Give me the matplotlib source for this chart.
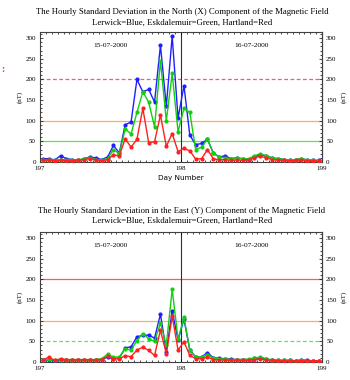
import numpy as np
import matplotlib
matplotlib.use("Agg")
import matplotlib.pyplot as plt
from matplotlib.ticker import MultipleLocator

hours = np.arange(48)
day = 197 + (hours + 0.5) / 24.0

# North (X) component
x_lerwick = [8, 8, 5, 15, 8, 6, 4, 8, 12, 10, 6, 12, 40, 22, 90, 97, 200, 170, 176, 145,
             283, 135, 305, 106, 185, 65, 42, 45, 55, 22, 12, 15, 8, 10, 8, 5, 12, 18, 15, 10,
             8, 6, 5, 5, 8, 5, 4, 4]
x_eskdalemuir = [5, 6, 4, 6, 5, 4, 5, 8, 10, 6, 5, 8, 30, 20, 80, 68, 120, 170, 145, 85,
                 245, 100, 215, 73, 130, 120, 30, 36, 55, 21, 12, 10, 8, 10, 8, 8, 15, 20, 15, 10,
                 8, 6, 5, 6, 8, 5, 4, 3]
x_hartland = [4, 5, 3, 4, 3, 3, 4, 6, 8, 5, 3, 6, 17, 15, 56, 36, 55, 130, 47, 49,
              114, 38, 69, 25, 33, 27, 7, 8, 30, 8, 5, 6, 4, 5, 4, 5, 10, 14, 10, 6,
              5, 4, 3, 4, 5, 3, 3, 2]

# East (Y) component
y_lerwick = [4, 6, 3, 5, 4, 4, 4, 4, 4, 5, 6, 12, 8, 10, 34, 37, 61, 65, 65, 58,
             116, 25, 124, 53, 104, 29, 12, 12, 23, 10, 9, 8, 7, 6, 6, 6, 9, 10, 7, 5,
             4, 4, 4, 3, 5, 4, 3, 3]
y_eskdalemuir = [5, 7, 4, 6, 5, 5, 5, 5, 5, 6, 8, 19, 12, 12, 32, 29, 52, 69, 56, 50,
                 94, 41, 176, 55, 108, 29, 12, 12, 18, 9, 8, 7, 6, 6, 6, 7, 10, 12, 8, 5,
                 4, 4, 4, 3, 4, 3, 3, 2]
y_hartland = [5, 12, 4, 8, 6, 6, 6, 6, 6, 6, 6, 14, 8, 8, 15, 13, 29, 36, 28, 16,
              77, 20, 111, 29, 49, 16, 8, 8, 12, 6, 5, 5, 4, 4, 4, 4, 6, 7, 5, 4,
              3, 3, 3, 3, 3, 3, 3, 3]

titles = ["The Hourly Standard Deviation in the North (X) Component of the Magnetic Field",
          "The Hourly Standard Deviation in the East (Y) Component of the Magnetic Field"]
subtitle = "Lerwick=Blue, Eskdalemuir=Green, Hartland=Red"
date_labels = ["15-07-2000", "16-07-2000"]
yticks = [0, 50, 100, 150, 200, 250, 300]
xticks = [197, 198, 199]

plt.rcParams['font.family'] = ['Liberation Serif', 'DejaVu Serif']

fig = plt.figure(figsize=(3.5, 3.8), dpi=100)

W, H = 350, 380
def ax_rect(l, t, r, b):
    return [l / W, 1 - b / H, (r - l) / W, (b - t) / H]

panels = [
    (ax_rect(40, 32, 322, 162), (x_lerwick, x_eskdalemuir, x_hartland), titles[0], True, (11.5, 22.5), (0, (3, 2))),
    (ax_rect(40, 232, 322, 362), (y_lerwick, y_eskdalemuir, y_hartland), titles[1], False, (211, 221), '-'),
]

for rect, (b, g, r), title, show_xlabel, title_y, redls in panels:
    ax = fig.add_axes(rect)
    ax.set_xlim(197, 199)
    ax.set_ylim(0, 315)
    ax.axhline(200, color='#ff3030', lw=0.9, ls=redls, zorder=1, alpha=0.8)
    ax.axhline(100, color='#ff9930', lw=0.9, zorder=1, alpha=0.8)
    ax.axhline(50, color='#30e030', lw=0.9, ls='-' if show_xlabel else (0, (3, 2)), zorder=1, alpha=0.8)
    ax.axvline(198, color='#303030', lw=0.8, zorder=1)
    for vals, col in ((b, '#2020ff'), (g, '#10d010'), (r, '#ff2020')):
        ax.plot(day, vals, color=col, lw=1.0, marker='o', ms=2.0, mec=col, mfc=col, zorder=3)
    ax.text(197.5, 283, date_labels[0], ha='center', va='center', fontsize=5.3)
    ax.text(198.5, 283, date_labels[1], ha='center', va='center', fontsize=5.3)
    ax.set_xticks(xticks)
    ax.set_xticklabels([str(t) for t in xticks])
    ax.set_yticks(yticks)
    ax.xaxis.set_minor_locator(MultipleLocator(1 / 24))
    ax.yaxis.set_minor_locator(MultipleLocator(10))
    ax.tick_params(which='both', direction='in', top=True, right=True,
                   labelright=True, labelsize=5.0, pad=3, width=0.5)
    ax.tick_params(which='major', length=2.5)
    ax.tick_params(which='minor', length=1.2)
    for s in ax.spines.values():
        s.set_linewidth(0.8)
        s.set_color('#404040')
    ax.set_ylabel("(nT)", fontsize=5, labelpad=2)
    ax2 = ax.secondary_yaxis('right')
    ax2.set_yticks([])
    ax2.set_ylabel("(nT)", fontsize=5, labelpad=14)
    if show_xlabel:
        ax.set_xlabel("Day Number", fontsize=5.2, labelpad=3, family=['DejaVu Sans'])
    fig.text(182 / W, 1 - title_y[0] / H, title, ha='center', va='center', fontsize=6.3)
    fig.text(182 / W, 1 - title_y[1] / H, subtitle, ha='center', va='center', fontsize=6.3)

fig.text(1 / W, 1 - 70 / H, ":", color='magenta', fontsize=7, ha='left', va='center', fontweight='bold')
fig.savefig("out.png", dpi=100)
